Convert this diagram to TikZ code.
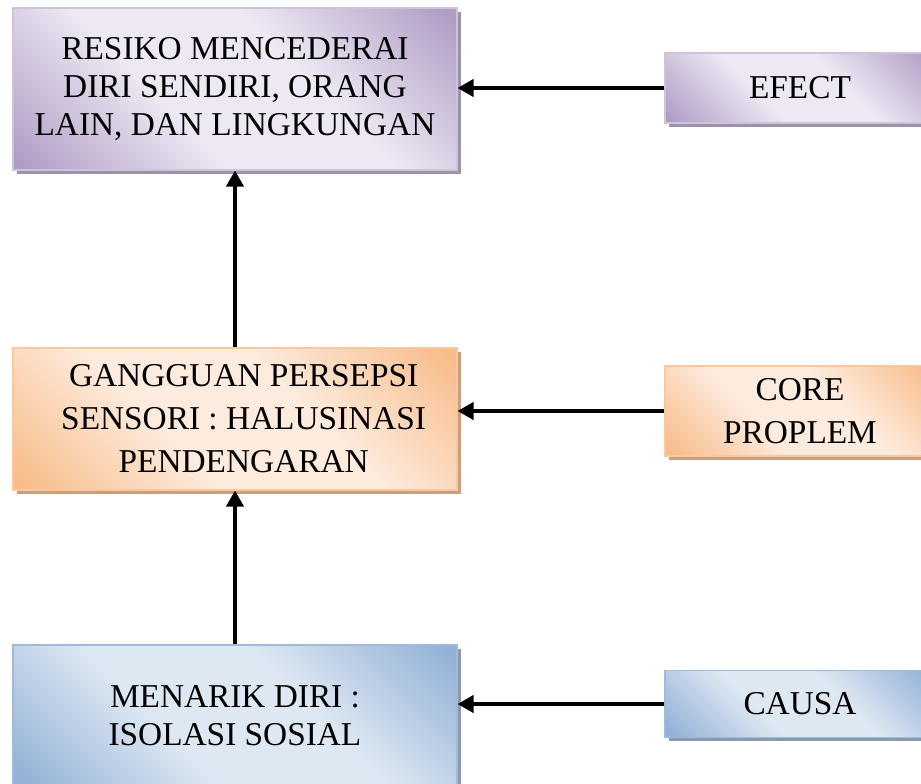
\documentclass[tikz,border=0pt]{standalone}
\usepackage{fontspec}
\setmainfont{Liberation Serif}
\usetikzlibrary{shadows,arrows.meta,positioning}
\definecolor{lilacdark}{HTML}{B09DC5}
\definecolor{lilaclight}{HTML}{EDE8F3}
\definecolor{lilacedge}{HTML}{CFC3DC}
\definecolor{lilacshade}{HTML}{9D93A8}
\definecolor{peachdark}{HTML}{F8BC8A}
\definecolor{peachlight}{HTML}{FDEBDD}
\definecolor{peachedge}{HTML}{FAC89E}
\definecolor{peachshade}{HTML}{C9A07E}
\definecolor{skydark}{HTML}{92B1D6}
\definecolor{skylight}{HTML}{DEE8F3}
\definecolor{skyedge}{HTML}{9FBADB}
\definecolor{skyshade}{HTML}{8C99AC}
\pgfdeclareverticalshading{lilacband}{100bp}{color(0bp)=(lilacdark); color(16bp)=(lilacdark);
  color(40bp)=(lilaclight); color(60bp)=(lilaclight); color(84bp)=(lilacdark); color(100bp)=(lilacdark)}
\pgfdeclareverticalshading{peachband}{100bp}{color(0bp)=(peachdark); color(16bp)=(peachdark);
  color(40bp)=(peachlight); color(60bp)=(peachlight); color(84bp)=(peachdark); color(100bp)=(peachdark)}
\pgfdeclareverticalshading{skyband}{100bp}{color(0bp)=(skydark); color(16bp)=(skydark);
  color(40bp)=(skylight); color(60bp)=(skylight); color(84bp)=(skydark); color(100bp)=(skydark)}
\tikzstyle{chart}=[
  x=0.75pt,y=-0.75pt,font=\fontsize{25}{28.5}\selectfont,
  >={Triangle[length=12pt,width=13pt]}
]
\tikzstyle{box}=[
  rectangle,draw,line width=0.9pt,align=center,inner sep=0pt,shade
]
\tikzstyle{lilac}=[
  box,draw=lilacedge,shading=lilacband,shading angle=-45,
  drop shadow={shadow xshift=3pt,shadow yshift=-3pt,fill=lilacshade,opacity=1}
]
\tikzstyle{peach}=[
  box,draw=peachedge,shading=peachband,shading angle=-45,
  font=\fontsize{25}{32.3}\selectfont,
  drop shadow={shadow xshift=3pt,shadow yshift=-3pt,fill=peachshade,opacity=1}
]
\tikzstyle{sky}=[
  box,draw=skyedge,shading=skyband,shading angle=-45,
  drop shadow={shadow xshift=3pt,shadow yshift=-3pt,fill=skyshade,opacity=1}
]
\tikzstyle{bigbox}=[
  minimum width=333pt
]
\tikzstyle{sidebox}=[
  minimum width=202.5pt
]
\tikzstyle{link}=[
  line width=2.4pt,->
]
\begin{document}
\begin{tikzpicture}[chart]
    \useasboundingbox (0,0) rectangle (921,783);
    \clip (0,0) rectangle (921,783);
    % left column
    \node (risk) at (235,89) [lilac,bigbox,minimum height=121.5pt]
      {RESIKO MENCEDERAI\\DIRI SENDIRI, ORANG\\LAIN, DAN LINGKUNGAN};
    \node (gps) at (235,419) [peach,bigbox,minimum height=106.5pt]
      {\hspace*{13pt}GANGGUAN PERSEPSI\\\hspace*{13pt}SENSORI : HALUSINASI\\\hspace*{13pt}PENDENGARAN};
    \node (isos) at (235,716) [sky,bigbox,minimum height=106.5pt]
      {MENARIK DIRI :\\ISOLASI SOSIAL};
    % right column
    \node (efect) at (800,88) [lilac,sidebox,minimum height=52.5pt] {EFECT};
    \node (core) at (800,411) [peach,sidebox,minimum height=67.5pt] {CORE\\PROPLEM};
    \node (causa) at (800,704) [sky,sidebox,minimum height=50pt] {CAUSA};
    \draw [link] (gps) -- (risk);
    \draw [link] (isos) -- (gps);
    \draw [link] (efect.west) -- (efect.west -| risk.east);
    \draw [link] (core.west) -- (core.west -| gps.east);
    \draw [link] (causa.west) -- (causa.west -| isos.east);
\end{tikzpicture}
\end{document}
